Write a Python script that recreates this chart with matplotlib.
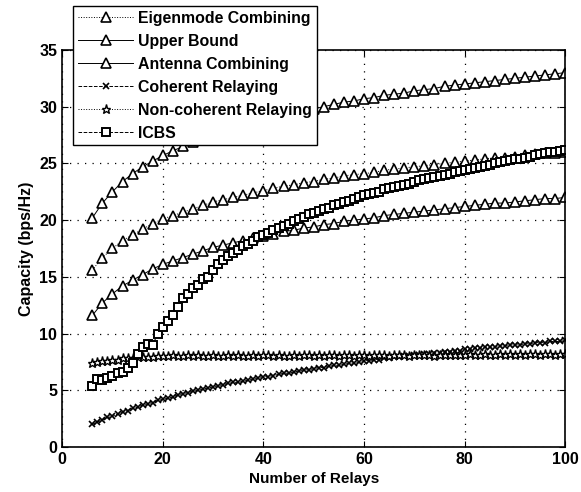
import matplotlib.pyplot as plt
import numpy as np

plt.rcParams['font.family'] = ['Liberation Sans', 'DejaVu Sans']
plt.rcParams['font.weight'] = 'bold'

# relays sampled every 2 for the triangle curves, every 1 for the rest
relays_2 = np.arange(6, 101, 2)
relays_1 = np.arange(6, 101, 1)

upper_bound = [20.2, 21.5, 22.5, 23.4, 24.1, 24.7, 25.2, 25.7, 26.1, 26.5,
               26.9, 27.2, 27.5, 27.8, 28.1, 28.4, 28.6, 28.8, 29.1, 29.3,
               29.5, 29.7, 29.8, 30.0, 30.2, 30.4, 30.5, 30.7, 30.8, 31.0,
               31.1, 31.2, 31.4, 31.5, 31.6, 31.8, 31.9, 32.0, 32.1, 32.2,
               32.3, 32.4, 32.5, 32.6, 32.7, 32.8, 32.9, 33.0]

eigenmode = [15.6, 16.7, 17.5, 18.2, 18.7, 19.2, 19.7, 20.1, 20.4, 20.7,
             21.0, 21.3, 21.6, 21.8, 22.0, 22.2, 22.4, 22.6, 22.8, 23.0,
             23.1, 23.3, 23.4, 23.6, 23.7, 23.9, 24.0, 24.1, 24.2, 24.4,
             24.5, 24.6, 24.7, 24.8, 24.9, 25.0, 25.1, 25.2, 25.3, 25.4,
             25.5, 25.5, 25.6, 25.7, 25.8, 25.9, 25.9, 26.0]

antenna = [11.6, 12.7, 13.5, 14.2, 14.7, 15.2, 15.7, 16.1, 16.4, 16.7,
           17.0, 17.3, 17.6, 17.8, 18.0, 18.2, 18.4, 18.6, 18.8, 19.0,
           19.1, 19.3, 19.4, 19.6, 19.7, 19.9, 20.0, 20.1, 20.2, 20.4,
           20.5, 20.6, 20.7, 20.8, 20.9, 21.0, 21.1, 21.2, 21.3, 21.4,
           21.5, 21.5, 21.6, 21.7, 21.8, 21.9, 21.9, 22.0]

icbs = [5.4, 6.0, 5.9, 6.1, 6.3, 6.5, 6.6, 7.0, 7.4, 8.2,
        8.8, 9.1, 9.0, 10.0, 10.6, 11.1, 11.6, 12.3, 13.1, 13.5,
        14.0, 14.3, 14.8, 15.0, 15.6, 16.1, 16.5, 16.8, 17.1, 17.4,
        17.7, 17.9, 18.2, 18.5, 18.7, 18.9, 19.1, 19.3, 19.5, 19.7,
        19.9, 20.1, 20.3, 20.5, 20.6, 20.8, 21.0, 21.1, 21.3, 21.4,
        21.6, 21.7, 21.9, 22.0, 22.2, 22.3, 22.4, 22.5, 22.7, 22.8,
        22.9, 23.0, 23.1, 23.2, 23.4, 23.5, 23.6, 23.7, 23.8, 23.9,
        24.0, 24.1, 24.2, 24.3, 24.4, 24.5, 24.6, 24.7, 24.8, 24.9,
        25.0, 25.1, 25.2, 25.3, 25.4, 25.4, 25.5, 25.6, 25.7, 25.8,
        25.9, 26.0, 26.0, 26.1, 26.2]

coherent = [2.0, 2.2, 2.4, 2.6, 2.7, 2.9, 3.1, 3.2, 3.4, 3.5,
            3.7, 3.8, 3.9, 4.1, 4.2, 4.3, 4.4, 4.6, 4.7, 4.8,
            4.9, 5.0, 5.1, 5.2, 5.3, 5.4, 5.5, 5.6, 5.7, 5.7,
            5.8, 5.9, 6.0, 6.1, 6.2, 6.2, 6.3, 6.4, 6.5, 6.5,
            6.6, 6.7, 6.8, 6.8, 6.9, 7.0, 7.0, 7.1, 7.2, 7.2,
            7.3, 7.4, 7.4, 7.5, 7.6, 7.6, 7.7, 7.7, 7.8, 7.8,
            7.9, 7.9, 8.0, 8.0, 8.1, 8.1, 8.2, 8.2, 8.3, 8.3,
            8.4, 8.4, 8.5, 8.5, 8.6, 8.6, 8.7, 8.7, 8.8, 8.8,
            8.8, 8.9, 8.9, 9.0, 9.0, 9.0, 9.1, 9.1, 9.2, 9.2,
            9.2, 9.3, 9.3, 9.3, 9.4]

noncoherent = [7.4, 7.5, 7.6, 7.6, 7.7, 7.7, 7.8, 7.8, 7.8, 7.9,
               7.9, 7.9, 7.9, 8.0, 8.0, 8.0, 8.1, 8.0, 8.0, 8.1,
               8.0, 8.1, 8.0, 8.0, 8.1, 8.0, 8.0, 8.1, 8.0, 8.1,
               8.0, 8.0, 8.1, 8.0, 8.1, 8.1, 8.0, 8.1, 8.0, 8.0,
               8.1, 8.0, 8.1, 8.1, 8.0, 8.1, 8.0, 8.1, 8.1, 8.0,
               8.1, 8.1, 8.0, 8.1, 8.1, 8.0, 8.1, 8.1, 8.1, 8.0,
               8.1, 8.1, 8.1, 8.0, 8.1, 8.1, 8.1, 8.1, 8.0, 8.1,
               8.1, 8.1, 8.1, 8.1, 8.1, 8.2, 8.1, 8.1, 8.2, 8.1,
               8.1, 8.2, 8.1, 8.2, 8.1, 8.2, 8.1, 8.2, 8.2, 8.1,
               8.2, 8.2, 8.1, 8.2, 8.2]

fig = plt.figure(figsize=(5.81, 4.92), dpi=100)
ax = fig.add_axes([0.107, 0.0915, 0.866, 0.807])

lw = 0.7
tri = dict(marker='^', markersize=7.5, markerfacecolor='white',
           markeredgecolor='black', markeredgewidth=1.2, color='black', linewidth=lw)

ax.plot(relays_2, eigenmode, linestyle=':', label='Eigenmode Combining', **tri)
ax.plot(relays_2, upper_bound, linestyle='-', label='Upper Bound', **tri)
ax.plot(relays_2, antenna, linestyle='-', label='Antenna Combining', **tri)
ax.plot(relays_1, coherent, linestyle='--', color='black', linewidth=lw,
        marker='x', markersize=5, markeredgewidth=1.2, label='Coherent Relaying')
ax.plot(relays_1, noncoherent, linestyle=':', color='black', linewidth=lw,
        marker='*', markersize=6.5, markerfacecolor='white', markeredgecolor='black',
        markeredgewidth=1.0, label='Non-coherent Relaying')
ax.plot(relays_1, icbs, linestyle='--', color='black', linewidth=lw,
        marker='s', markersize=6, markerfacecolor='white', markeredgecolor='black',
        markeredgewidth=1.4, label='ICBS')

ax.set_xlim(0, 100)
ax.set_ylim(0, 35)
ax.set_xticks(np.arange(0, 101, 20))
ax.set_yticks(np.arange(0, 36, 5))
ax.grid(True, color='black', linestyle=(0, (1, 5)), linewidth=0.9)
ax.tick_params(direction='in', top=True, right=True, labelsize=11.5, length=4)
for s in ax.spines.values():
    s.set_linewidth(1.2)

ax.set_xlabel('Number of Relays', fontsize=11, fontweight='bold')
ax.set_ylabel('Capacity (bps/Hz)', fontsize=11.5, fontweight='bold')

leg = ax.legend(loc='upper left', bbox_to_anchor=(0.022, 1.11), fancybox=False,
                framealpha=1, edgecolor='black', fontsize=11.4, handlelength=3.5,
                handletextpad=0.3, borderpad=0.3, labelspacing=0.5,
                borderaxespad=0)
leg.get_frame().set_linewidth(1.0)
leg.set_zorder(5)

plt.savefig('out.png', dpi=100)
